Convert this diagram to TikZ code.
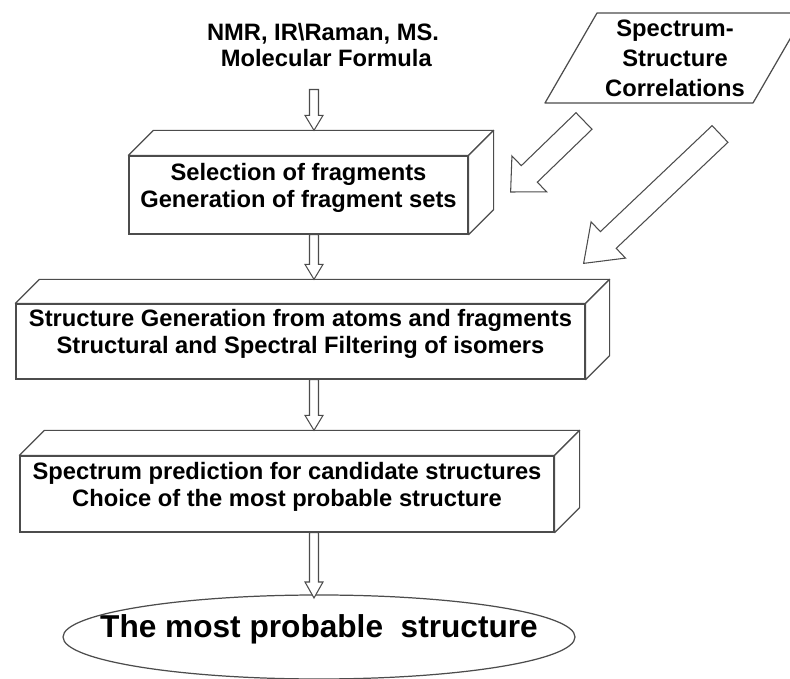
\documentclass[tikz,border=0pt]{standalone}
\usepackage{fontspec}
\setmainfont{Liberation Sans}
\usetikzlibrary{shapes.geometric, calc, positioning}
\tikzstyle{stage} = [rectangle, draw=black!70, line width=0.7pt, fill=white, align=center, inner ysep=2pt, text depth=11pt, font=\bfseries\fontsize{13.5}{15.3}\selectfont]
\tikzstyle{source} = [align=center, font=\bfseries\fontsize{13.5}{14.3}\selectfont]
\tikzstyle{corrtext} = [align=center, font=\bfseries\fontsize{13.5}{17}\selectfont]
\tikzstyle{result} = [text depth=12pt, font=\bfseries\fontsize{18}{20}\selectfont]
\tikzstyle{face} = [draw=black!70, line width=0.7pt, fill=white, line join=round]
\tikzstyle{hollow} = [draw=black!70, line width=0.6pt, fill=white]
\newcommand{\boxtop}[2]{%
  \draw[face] (#1.north west) -- ++(#2,#2) -- ($(#1.north east)+(#2,#2)$) -- (#1.north east) -- cycle;
  \draw[face] (#1.north east) -- ++(#2,#2) -- ($(#1.south east)+(#2,#2)$) -- (#1.south east) -- cycle;}
\newcommand{\hollowarrow}[5]{%
  \coordinate (hb) at ($(#2)!#5!(#1)$);
  \draw[hollow] ($(#1)!#3!90:(#2)$) -- ($(hb)!#3!90:(#2)$) -- ($(hb)!#4!90:(#2)$) -- (#2)
    -- ($(hb)!#4!-90:(#2)$) -- ($(hb)!#3!-90:(#2)$) -- ($(#1)!#3!-90:(#2)$) -- cycle;}

\begin{document}
\begin{tikzpicture}[node distance=3cm]
    \useasboundingbox (0,0) rectangle (15.8,13.58);
    \node (src) [source] at (6.46,12.68) {NMR, IR\textbackslash Raman, MS.\\ \ Molecular Formula};
    \node (corr) [corrtext, right of=src, xshift=4.04cm, yshift=-0.26cm] {Spectrum-\\Structure\\Correlations};
    \node (box1) [stage, minimum width=6.78cm, minimum height=1.56cm, below of=src, xshift=-0.49cm] {Selection of fragments\\Generation of fragment sets};
    \node (box2) [stage, minimum width=11.38cm, minimum height=1.5cm, below of=box1, xshift=0.04cm, yshift=0.07cm] {Structure Generation from atoms and fragments\\Structural and Spectral Filtering of isomers};
    \node (box3) [stage, minimum width=10.68cm, minimum height=1.52cm, below of=box2, xshift=-0.27cm, yshift=-0.05cm] {Spectrum prediction for candidate structures\\Choice of the most probable structure};
    \node (ell) [result, below of=box3, xshift=0.64cm, yshift=0.14cm] {The most probable\ \ structure};

    \draw[face, fill=none] ($(corr.center)+(-2.6,-0.9)$) -- ($(corr.center)+(-1.56,0.9)$) -- ($(corr.center)+(2.6,0.9)$) -- ($(corr.center)+(1.56,-0.9)$) -- cycle;
    \draw[face, fill=none] (ell.center) ellipse [x radius=5.12cm, y radius=0.84cm];
    \coordinate (elltop) at ($(ell.center)+(0,0.84)$);

    \boxtop{box1}{0.5}
    \boxtop{box2}{0.48}
    \boxtop{box3}{0.5}

    \coordinate (spine) at (6.28,0);
    \coordinate (a1s) at ($(src.south -| spine)+(0,-0.34)$);
    \coordinate (a1e) at ($(box1.north -| spine)+(0,0.5)$);
    \coordinate (a2s) at (box1.south -| spine);
    \coordinate (a2e) at ($(box2.north -| spine)+(0,0.48)$);
    \coordinate (a3s) at (box2.south -| spine);
    \coordinate (a3e) at ($(box3.north -| spine)+(0,0.5)$);
    \coordinate (a4s) at (box3.south -| spine);
    \coordinate (a4e) at ($(elltop -| spine)+(0,-0.06)$);
    \coordinate (a5s) at ($(corr.center)+(-1.82,-1.26)$);
    \coordinate (a5e) at ($(box1.east)+(0.84,0.06)$);
    \coordinate (a6s) at ($(corr.center)+(0.9,-1.52)$);
    \coordinate (a6e) at ($(box2.north east)+(-0.04,0.8)$);

    \hollowarrow{a1s}{a1e}{0.09cm}{0.18cm}{0.3cm}
    \hollowarrow{a2s}{a2e}{0.09cm}{0.18cm}{0.3cm}
    \hollowarrow{a3s}{a3e}{0.09cm}{0.18cm}{0.3cm}
    \hollowarrow{a4s}{a4e}{0.09cm}{0.18cm}{0.32cm}
    \hollowarrow{a5s}{a5e}{0.23cm}{0.5cm}{0.52cm}
    \hollowarrow{a6s}{a6e}{0.23cm}{0.5cm}{0.68cm}
\end{tikzpicture}
\end{document}
